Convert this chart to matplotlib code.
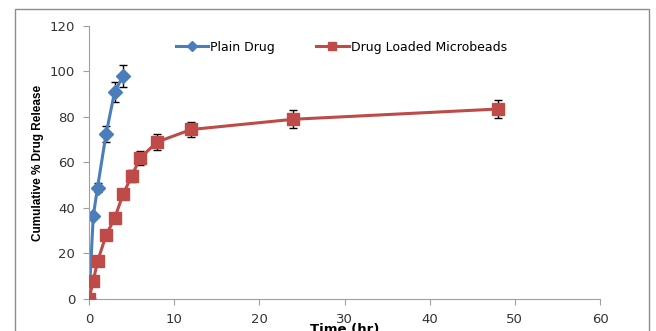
import matplotlib.pyplot as plt
from matplotlib.patches import Rectangle

# data
plain_t = [0, 0.5, 1, 2, 3, 4]
plain_rel = [0, 36.5, 49, 72.5, 91, 98]
plain_err = [0, 0, 2, 3.5, 4.5, 5]

beads_t = [0, 0.5, 1, 2, 3, 4, 5, 6, 8, 12, 24, 48]
beads_rel = [0, 8, 16.5, 28, 35.5, 46, 54, 62, 69, 74.5, 79, 83.5]
beads_err = [0, 0, 0, 0, 0, 0, 2.5, 3, 3.5, 3.5, 4, 4]

blue = '#4a7ebb'
red = '#be4b48'

fig = plt.figure(figsize=(6.56, 3.31), dpi=100)
ax = fig.add_axes([0.1357, 0.0967, 0.779, 0.8248])

# outer chart border
fig.patches.append(Rectangle((0.023, -0.1), 0.966, 1.072, transform=fig.transFigure,
                             fill=False, edgecolor='#8c8c8c', linewidth=1.0))

ax.errorbar(beads_t, beads_rel, yerr=beads_err, color=red, lw=2.2, marker='s', ms=8,
            mec=red, ecolor='black', elinewidth=1, capsize=3, capthick=1,
            label='Drug Loaded Microbeads', zorder=3)
ax.errorbar(plain_t, plain_rel, yerr=plain_err, color=blue, lw=2.2, marker='D', ms=7,
            mec=blue, ecolor='black', elinewidth=1, capsize=3, capthick=1,
            label='Plain Drug', zorder=2)

ax.set_xlim(0, 60)
ax.set_ylim(0, 120)
ax.set_xticks(range(0, 61, 10))
ax.set_yticks(range(0, 121, 20))
for s in ['top', 'right']:
    ax.spines[s].set_visible(False)
for s in ['left', 'bottom']:
    ax.spines[s].set_color('#a0a0a0')
ax.tick_params(colors='#a0a0a0', labelcolor='#333333', labelsize=9.5, length=4, pad=6)

ax.set_ylabel('Cumulative % Drug Release', fontsize=8.5, fontweight='bold',
              family='Liberation Sans', labelpad=4)
fig.text(0.526, -0.014, 'Time (hr)', ha='center', va='bottom', fontsize=9.5, fontweight='bold')

h, l = ax.get_legend_handles_labels()
h = [x[0] for x in h]
ax.legend(h[::-1], l[::-1], loc='upper left', bbox_to_anchor=(0.16, 0.965), ncol=2,
          frameon=False, fontsize=9, handlelength=2.6, handletextpad=0.15,
          columnspacing=3.3, markerscale=0.75, borderaxespad=0)

fig.savefig('out.png', dpi=100)
